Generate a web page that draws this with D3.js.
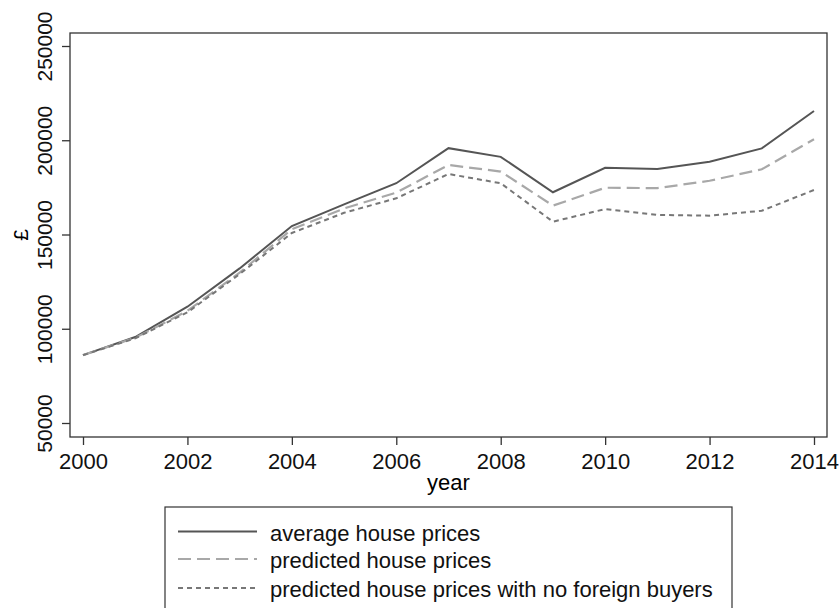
<!DOCTYPE html>
<meta charset="utf-8">
<style>
body { margin: 0; background: #fff; }
svg { font-family: "Liberation Sans", Arial, sans-serif; }
.axis path, .axis line { stroke: #333; stroke-width: 1.3; fill: none; }
.axis text { font-size: 22px; fill: #111; }
</style>
<body>
<script src="https://cdn.jsdelivr.net/npm/d3@7"></script>
<script>
var years = [2000, 2001, 2002, 2003, 2004, 2005, 2006, 2007, 2008, 2009, 2010, 2011, 2012, 2013, 2014];
var avgPrices = [86000, 95600, 111700, 132000, 154500, 166000, 177200, 195800, 191200, 172400, 185400, 184800, 188600, 195700, 215500];
var predPrices = [86000, 95200, 109500, 129800, 152800, 163800, 172200, 186900, 183400, 165300, 174800, 174600, 178500, 184600, 200500];
var noForeignPrices = [86000, 94900, 108700, 129000, 150800, 161500, 169200, 182100, 177200, 156800, 163500, 160400, 160000, 162600, 173600];
var xTicks = [2000, 2002, 2004, 2006, 2008, 2010, 2012, 2014];
var yTicks = [50000, 100000, 150000, 200000, 250000];

var series = [
  { name: "average house prices", values: avgPrices, color: "#555", dash: null, w: 2 },
  { name: "predicted house prices", values: predPrices, color: "#a8a8a8", dash: "13,6", w: 2.2 },
  { name: "predicted house prices with no foreign buyers", values: noForeignPrices, color: "#777", dash: "5,4", w: 2 }
];

var W = 839, H = 608;
var box = { left: 70, top: 33, right: 827, bottom: 437 };

var x = d3.scaleLinear().domain([2000, 2014]).range([83, 814]);
var y = d3.scaleLinear().domain([50000, 250000]).range([423, 46]);

var svg = d3.select("body").append("svg")
  .attr("width", W)
  .attr("height", H);

// plot frame
svg.append("rect")
  .attr("x", box.left).attr("y", box.top)
  .attr("width", box.right - box.left).attr("height", box.bottom - box.top)
  .attr("fill", "none").attr("stroke", "#333").attr("stroke-width", 1.3);

// x axis
var gx = svg.append("g")
  .attr("class", "axis")
  .attr("transform", "translate(0," + box.bottom + ")")
  .call(d3.axisBottom(x).tickValues(xTicks).tickFormat(d3.format("d")).tickSize(8).tickSizeOuter(0));
gx.select(".domain").remove();
gx.selectAll("text").attr("dy", null).attr("y", 32);

// y axis, labels turned on their side
var gy = svg.append("g")
  .attr("class", "axis")
  .attr("transform", "translate(" + box.left + ",0)")
  .call(d3.axisLeft(y).tickValues(yTicks).tickFormat(d3.format("d")).tickSize(8).tickSizeOuter(0));
gy.select(".domain").remove();
gy.selectAll("text")
  .attr("x", null).attr("y", 0).attr("dy", null)
  .attr("text-anchor", "middle")
  .style("font-size", "21px")
  .attr("transform", "translate(-18,0) rotate(-90)");

// axis titles
svg.append("text")
  .attr("x", (box.left + box.right) / 2)
  .attr("y", 490)
  .attr("text-anchor", "middle")
  .style("font-size", "22px")
  .text("year");

svg.append("text")
  .attr("transform", "translate(28," + ((box.top + box.bottom) / 2) + ") rotate(-90)")
  .attr("text-anchor", "middle")
  .style("font-size", "21px")
  .text("£");

// lines
var line = d3.line()
  .x(function(d, i) { return x(years[i]); })
  .y(function(d) { return y(d); });

series.forEach(function(s) {
  svg.append("path")
    .attr("d", line(s.values))
    .attr("fill", "none")
    .attr("stroke", s.color)
    .attr("stroke-width", s.w)
    .attr("stroke-dasharray", s.dash);
});

// legend (box runs off the bottom of the picture)
var lg = svg.append("g");
lg.append("rect")
  .attr("x", 165).attr("y", 507)
  .attr("width", 567).attr("height", 120)
  .attr("fill", "none").attr("stroke", "#333").attr("stroke-width", 1.2);

var rowY = [531.5, 559, 588];
series.forEach(function(s, i) {
  var cy = rowY[i];
  lg.append("line")
    .attr("x1", 178).attr("x2", 257)
    .attr("y1", cy).attr("y2", cy)
    .attr("stroke", s.color)
    .attr("stroke-width", s.w)
    .attr("stroke-dasharray", s.dash);
  lg.append("text")
    .attr("x", 270).attr("y", cy + 9)
    .style("font-size", "22px")
    .attr("fill", "#111")
    .text(s.name);
});
</script>
</body>
